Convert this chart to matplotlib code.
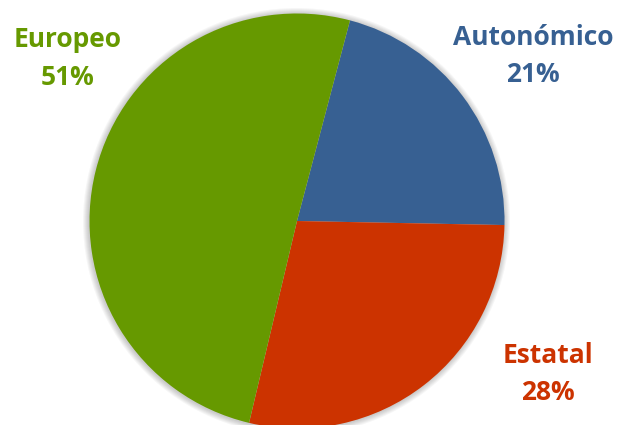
import matplotlib
matplotlib.use("Agg")
import matplotlib.pyplot as plt
from matplotlib.patches import Circle

categories = ["Autonómico", "Estatal", "Europeo"]
values = [21.2, 28.4, 50.4]
pct_labels = ["21%", "28%", "51%"]
colors = ["#376092", "#CC3300", "#669900"]

W, H = 619, 425
fig = plt.figure(figsize=(W / 100, H / 100), dpi=100)
ax = fig.add_axes([0, 0, 1, 1])

cx, cy, r = 297, H - 221, 207.5

# soft shadow around the pie
for i in range(1, 7):
    ax.add_patch(Circle((cx - 0.5, cy - 0.5), r + i, facecolor="#000000",
                        alpha=0.035, linewidth=0, zorder=0))

ax.pie(values, colors=colors, startangle=90 - 14.8, counterclock=False,
       center=(cx, cy), radius=r, frame=True,
       wedgeprops=dict(linewidth=0, zorder=2))
ax.set_xlim(0, W)
ax.set_ylim(0, H)
ax.set_aspect("equal")
ax.axis("off")

# label layout: (x center, baseline of name, baseline of percentage) in pixels from top
label_pos = {"Europeo": (68, 47, 85), "Autonómico": (533, 45, 82), "Estatal": (548, 363, 400)}
font = dict(family="Open Sans", weight="bold", fontsize=19)
for cat, pl, col in zip(categories, pct_labels, colors):
    x, y1, y2 = label_pos[cat]
    ax.text(x, H - y1, cat, color=col, ha="center", va="baseline", **font)
    ax.text(x, H - y2, pl, color=col, ha="center", va="baseline", **font)

fig.savefig("out.png", dpi=100)
